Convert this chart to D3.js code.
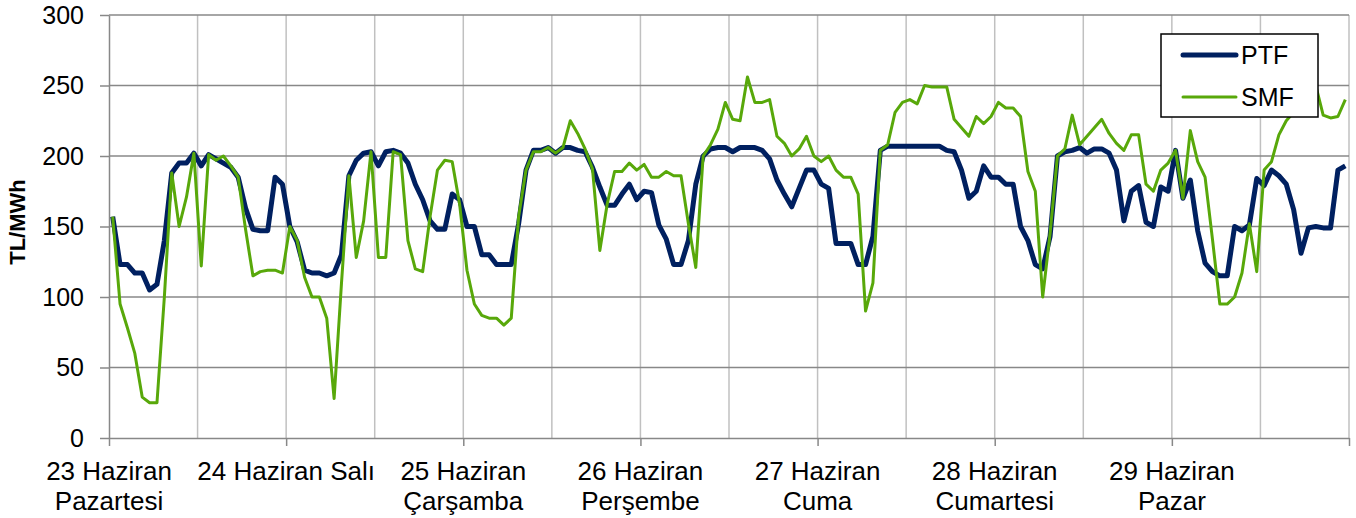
<!DOCTYPE html>
<html>
<head>
<meta charset="utf-8">
<script src="https://cdn.jsdelivr.net/npm/d3@7"></script>
<style>
  html, body { margin: 0; padding: 0; background: #fff; }
  svg { display: block; font-family: "Liberation Sans", Arial, sans-serif; }
</style>
</head>
<body>
<svg id="chart" width="1356" height="518"></svg>
<script>
// ---- data ----
const dayLabels = [
  ["23 Haziran", "Pazartesi"],
  ["24 Haziran Salı"],
  ["25 Haziran", "Çarşamba"],
  ["26 Haziran", "Perşembe"],
  ["27 Haziran", "Cuma"],
  ["28 Haziran", "Cumartesi"],
  ["29 Haziran", "Pazar"]
];
const yTicks = [0, 50, 100, 150, 200, 250, 300];
const seriesNames = ["PTF", "SMF"];

const ptf = [
  157,123,123,117,117,105,109,140,188,195,195,202,193,201,198,195,192,185,163,148,147,147,185,180,
  150,139,119,117,117,115,117,130,186,197,202,203,193,203,204,202,195,180,169,154,148,148,173,169,
  150,150,130,130,123,123,123,152,190,204,204,206,202,206,206,204,203,192,178,165,165,173,180,169,
  175,174,151,141,123,123,140,180,200,205,206,206,203,206,206,206,204,198,183,173,164,177,190,190,
  180,177,138,138,138,123,123,143,204,207,207,207,207,207,207,207,207,204,203,190,170,175,193,185,
  185,180,180,150,140,123,120,143,200,203,204,206,202,205,205,202,190,154,175,179,153,150,178,175,
  204,170,183,147,124,118,115,115,150,147,151,184,179,190,186,180,162,131,149,150,149,149,190,193
];
const smf = [
  157,95,78,60,29,25,25,100,188,150,171,202,122,201,197,200,193,185,148,115,118,119,119,117,
  150,140,114,100,100,85,28,110,186,128,154,203,128,128,203,201,140,120,118,157,190,197,196,166,
  119,95,87,85,85,80,85,157,190,203,203,206,202,206,225,216,205,191,133,166,189,189,195,190,
  194,185,185,189,186,186,152,121,200,208,219,238,226,225,256,238,238,240,214,209,200,205,214,200,
  196,200,190,185,185,173,90,110,204,208,231,238,240,237,250,249,249,249,226,220,214,228,223,228,
  238,234,234,228,189,175,100,145,200,205,229,208,214,220,226,216,209,204,215,215,180,175,190,195,
  204,170,218,196,185,141,95,95,100,117,152,118,190,196,215,225,231,238,245,250,229,227,228,240
];
const hours = ptf.map((_, i) => i);

// ---- drawing ----
const svg = d3.select("#chart");
const pLeft = 109, pRight = 1349, pTop = 15, pBottom = 438;
const x = d3.scaleLinear().domain([0, hours.length]).range([pLeft, pRight]);
const y = d3.scaleLinear().domain([0, 300]).range([pBottom, pTop]);
const colors = { PTF: "#002060", SMF: "#58a80a" };

svg.append("rect").attr("width", 1356).attr("height", 518).attr("fill", "#fff");

// vertical gridlines every 12 hours
const vGrid = d3.range(12, hours.length + 1, 12);
svg.append("g").selectAll("line").data(vGrid).join("line")
  .attr("x1", d => x(d)).attr("x2", d => x(d))
  .attr("y1", pTop).attr("y2", pBottom)
  .attr("stroke", "#c0c0c0").attr("stroke-width", 1.5);

// horizontal gridlines
svg.append("g").selectAll("line").data(yTicks.filter(d => d > 0)).join("line")
  .attr("x1", pLeft).attr("x2", pRight)
  .attr("y1", d => y(d)).attr("y2", d => y(d))
  .attr("stroke", "#888").attr("stroke-width", 1.5);

// y axis
const yAxis = svg.append("g").attr("transform", `translate(${pLeft},0)`)
  .call(d3.axisLeft(y).tickValues(yTicks).tickSize(9).tickPadding(16).tickSizeOuter(0));
yAxis.select(".domain").attr("stroke", "#888").attr("stroke-width", 1.5);
yAxis.selectAll(".tick line").attr("stroke", "#888").attr("stroke-width", 1.5);
yAxis.selectAll(".tick text").attr("font-size", 25).attr("fill", "#000")
  .attr("font-family", "Liberation Sans, Arial, sans-serif");

// x axis
const dayTicks = d3.range(0, hours.length + 1, 24);
const xAxis = svg.append("g").attr("transform", `translate(0,${pBottom})`)
  .call(d3.axisBottom(x).tickValues(dayTicks).tickSize(8).tickFormat("").tickSizeOuter(0));
xAxis.select(".domain").attr("stroke", "#888").attr("stroke-width", 1.5);
xAxis.selectAll(".tick line").attr("stroke", "#888").attr("stroke-width", 1.5);

// x labels
const lbl = svg.append("g").selectAll("text").data(dayLabels).join("text")
  .attr("x", (d, i) => x(i * 24))
  .attr("y", 480)
  .attr("text-anchor", "middle")
  .attr("font-size", 26)
  .attr("fill", "#000");
lbl.selectAll("tspan").data(d => d).join("tspan")
  .attr("x", function() { return d3.select(this.parentNode).attr("x"); })
  .attr("dy", (d, j) => j === 0 ? 0 : 30)
  .text(d => d);

// y title
svg.append("text")
  .attr("transform", `translate(25,222) rotate(-90)`)
  .attr("text-anchor", "middle")
  .attr("font-size", 22).attr("font-weight", "bold").attr("fill", "#000")
  .text("TL/MWh");

// lines
const line = d3.line().x((d, i) => x(i + 0.5)).y(d => y(d));
svg.append("path").datum(ptf).attr("d", line)
  .attr("fill", "none").attr("stroke", colors.PTF).attr("stroke-width", 5)
  .attr("stroke-linejoin", "round");
svg.append("path").datum(smf).attr("d", line)
  .attr("fill", "none").attr("stroke", colors.SMF).attr("stroke-width", 3)
  .attr("stroke-linejoin", "round");

// legend
const lg = svg.append("g");
lg.append("rect").attr("x", 1161).attr("y", 34).attr("width", 157).attr("height", 83)
  .attr("fill", "#fff").attr("stroke", "#000").attr("stroke-width", 1.5);
const lgY = { PTF: 55, SMF: 97 };
const lgW = { PTF: 5, SMF: 3 };
seriesNames.forEach(name => {
  lg.append("line").attr("x1", 1183).attr("x2", 1236)
    .attr("y1", lgY[name]).attr("y2", lgY[name])
    .attr("stroke", colors[name]).attr("stroke-width", lgW[name]).attr("stroke-linecap", "round");
  lg.append("text").attr("x", 1241).attr("y", lgY[name]).attr("dy", "0.35em")
    .attr("font-size", 25).attr("fill", "#000").text(name);
});
</script>
</body>
</html>
